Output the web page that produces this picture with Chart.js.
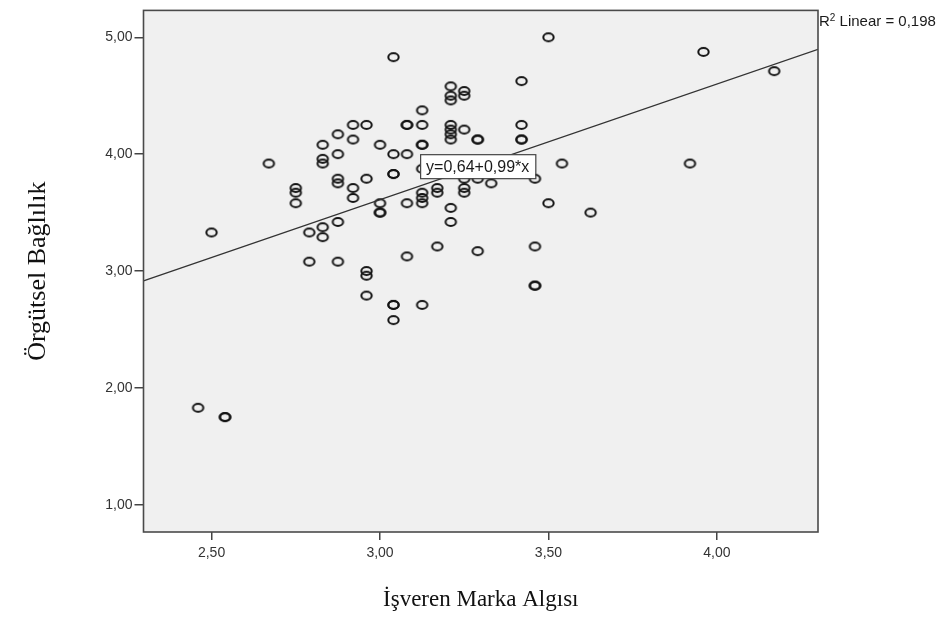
<!DOCTYPE html>
<html>
<head>
<meta charset="utf-8">
<script src="https://cdn.jsdelivr.net/npm/chart.js"></script>
<style>
  html, body { margin: 0; padding: 0; background: #fff; }
</style>
</head>
<body>
<canvas id="scatter" width="944" height="618"></canvas>
<script>
// İşveren Marka Algısı (x) / Örgütsel Bağlılık (y)
var isverenMarka = [
  2.46, 2.54, 2.54, 2.50, 2.67, 2.75, 2.75, 2.75, 2.79, 2.79,
  2.83, 2.83, 2.83, 2.83, 2.83, 2.875, 2.875, 2.875, 2.875, 2.875,
  2.875, 2.92, 2.92, 2.92, 2.92, 2.96, 2.96, 2.96, 2.96, 2.96,
  3.00, 3.00, 3.00, 3.00, 3.04, 3.04, 3.04, 3.04, 3.04, 3.04,
  3.04, 3.08, 3.08, 3.08, 3.08, 3.08, 3.125, 3.125, 3.125, 3.125,
  3.125, 3.125, 3.125, 3.125, 3.125, 3.17, 3.17, 3.17, 3.21, 3.21,
  3.21, 3.21, 3.21, 3.21, 3.21, 3.21, 3.21, 3.25, 3.25, 3.25,
  3.25, 3.25, 3.25, 3.29, 3.29, 3.29, 3.29, 3.33, 3.42, 3.42,
  3.42, 3.42, 3.46, 3.46, 3.46, 3.46, 3.50, 3.50, 3.54, 3.625,
  3.92, 3.96, 4.17
];
var orgutselBaglilik = [
  1.83, 1.75, 1.75, 3.33, 3.92, 3.71, 3.67, 3.58, 3.33, 3.08,
  4.08, 3.96, 3.92, 3.375, 3.29, 4.17, 4.00, 3.79, 3.75, 3.42,
  3.08, 4.25, 4.125, 3.71, 3.625, 4.25, 3.79, 3.00, 2.96, 2.79,
  4.08, 3.58, 3.50, 3.50, 4.83, 4.00, 3.83, 3.83, 2.71, 2.71,
  2.58, 4.25, 4.25, 4.00, 3.58, 3.125, 4.375, 4.25, 4.08, 4.08,
  3.875, 3.67, 3.625, 3.58, 2.71, 3.71, 3.67, 3.21, 4.58, 4.50,
  4.46, 4.25, 4.21, 4.17, 4.125, 3.54, 3.42, 4.54, 4.50, 4.21,
  3.79, 3.71, 3.67, 4.125, 4.125, 3.79, 3.17, 3.75, 4.625, 4.25,
  4.125, 4.125, 3.79, 3.21, 2.875, 2.875, 5.00, 3.58, 3.92, 3.50,
  3.92, 4.875, 4.71
];

var xTicks = [2.5, 3.0, 3.5, 4.0];
var yTicks = [1, 2, 3, 4, 5];
var xRange = [2.298, 4.30];
var yRange = [0.767, 5.23];

var fitIntercept = 0.64;
var fitSlope = 0.99;
var rSquare = 0.198;
var fitLabelAt = 3.29;

function comma(v, d) {
  return v.toFixed(d).replace('.', ',');
}

// SPSS-style hollow marker, a little wider than tall
function ringMarker() {
  var c = document.createElement('canvas');
  c.width = 15;
  c.height = 12;
  var g = c.getContext('2d');
  g.strokeStyle = '#141414';
  g.lineWidth = 2;
  g.beginPath();
  g.ellipse(7.5, 6, 5.2, 3.9, 0, 0, Math.PI * 2);
  g.stroke();
  return c;
}

var points = isverenMarka.map(function (x, i) {
  return { x: x, y: orgutselBaglilik[i] };
});
var fitLine = xRange.map(function (x) {
  return { x: x, y: fitIntercept + fitSlope * x };
});

var plotFrame = {
  id: 'plotFrame',
  beforeDraw: function (chart) {
    var ctx = chart.ctx, a = chart.chartArea;
    ctx.save();
    ctx.fillStyle = '#ffffff';
    ctx.fillRect(0, 0, chart.width, chart.height);
    ctx.fillStyle = '#f0f0f0';
    ctx.fillRect(a.left, a.top, a.right - a.left, a.bottom - a.top);
    ctx.restore();
  },
  afterDatasetsDraw: function (chart) {
    var ctx = chart.ctx, a = chart.chartArea;
    var xs = chart.scales.x, ys = chart.scales.y;
    ctx.save();
    ctx.strokeStyle = '#4a4a4a';
    ctx.lineWidth = 1.6;
    ctx.strokeRect(a.left, a.top, a.right - a.left, a.bottom - a.top);

    // equation box on the fit line
    var txt = 'y=' + comma(fitIntercept, 2) + '+' + comma(fitSlope, 2) + '*x';
    ctx.font = '16px "Liberation Sans", Arial, sans-serif';
    var w = ctx.measureText(txt).width + 12;
    var h = 24;
    var cx = xs.getPixelForValue(fitLabelAt);
    var cy = ys.getPixelForValue(fitIntercept + fitSlope * fitLabelAt);
    ctx.fillStyle = '#ffffff';
    ctx.fillRect(cx - w / 2, cy - h / 2, w, h);
    ctx.strokeStyle = '#444';
    ctx.lineWidth = 1.2;
    ctx.strokeRect(cx - w / 2 + 0.5, cy - h / 2 + 0.5, w, h);
    ctx.fillStyle = '#1a1a1a';
    ctx.textAlign = 'center';
    ctx.textBaseline = 'middle';
    ctx.fillText(txt, cx, cy + 1);

    // R² note outside the top right corner
    var bx = a.right + 1, by = a.top + 15.5;
    ctx.textAlign = 'left';
    ctx.textBaseline = 'alphabetic';
    ctx.fillStyle = '#1a1a1a';
    ctx.font = '15px "Liberation Sans", Arial, sans-serif';
    ctx.fillText('R', bx, by);
    bx += ctx.measureText('R').width;
    ctx.font = '10px "Liberation Sans", Arial, sans-serif';
    ctx.fillText('2', bx, by - 5);
    bx += ctx.measureText('2').width;
    ctx.font = '15px "Liberation Sans", Arial, sans-serif';
    ctx.fillText(' Linear = ' + comma(rSquare, 3), bx, by);
    ctx.restore();
  }
};

var tickFont = { family: '"Liberation Sans", Arial, sans-serif', size: 14 };
var serif = '"Liberation Serif", "Times New Roman", serif';

new Chart(document.getElementById('scatter'), {
  type: 'scatter',
  data: {
    datasets: [
      {
        type: 'line',
        data: fitLine,
        borderColor: '#333',
        borderWidth: 1.3,
        pointRadius: 0,
        fill: false
      },
      {
        data: points,
        pointStyle: ringMarker(),
        pointRadius: 5
      }
    ]
  },
  options: {
    responsive: false,
    animation: false,
    layout: { padding: { top: 7.5, right: 126, left: 0, bottom: 0 } },
    plugins: {
      legend: { display: false },
      tooltip: { enabled: false }
    },
    scales: {
      x: {
        type: 'linear',
        min: xRange[0],
        max: xRange[1],
        afterBuildTicks: function (s) {
          s.ticks = xTicks.map(function (v) { return { value: v }; });
        },
        afterFit: function (s) { s.height = 86; },
        grid: { drawOnChartArea: false, tickLength: 8, color: '#444', lineWidth: 1.5 },
        border: { display: false },
        ticks: {
          font: tickFont,
          color: '#333',
          padding: 5,
          maxRotation: 0,
          callback: function (v) { return comma(v, 2); }
        },
        title: {
          display: true,
          text: 'İşveren Marka Algısı',
          font: { family: serif, size: 23 },
          color: '#111',
          padding: { top: 0, bottom: 4 }
        }
      },
      y: {
        type: 'linear',
        min: yRange[0],
        max: yRange[1],
        afterBuildTicks: function (s) {
          s.ticks = yTicks.map(function (v) { return { value: v }; });
        },
        afterFit: function (s) { s.width = 143.5; },
        grid: { drawOnChartArea: false, tickLength: 9, color: '#444', lineWidth: 1.5 },
        border: { display: false },
        ticks: {
          font: tickFont,
          color: '#333',
          padding: 2,
          callback: function (v) { return comma(v, 2); }
        },
        title: {
          display: true,
          text: 'Örgütsel Bağlılık',
          font: { family: serif, size: 26 },
          color: '#111',
          padding: { top: 23, bottom: 0 }
        }
      }
    }
  },
  plugins: [plotFrame]
});
</script>
</body>
</html>
